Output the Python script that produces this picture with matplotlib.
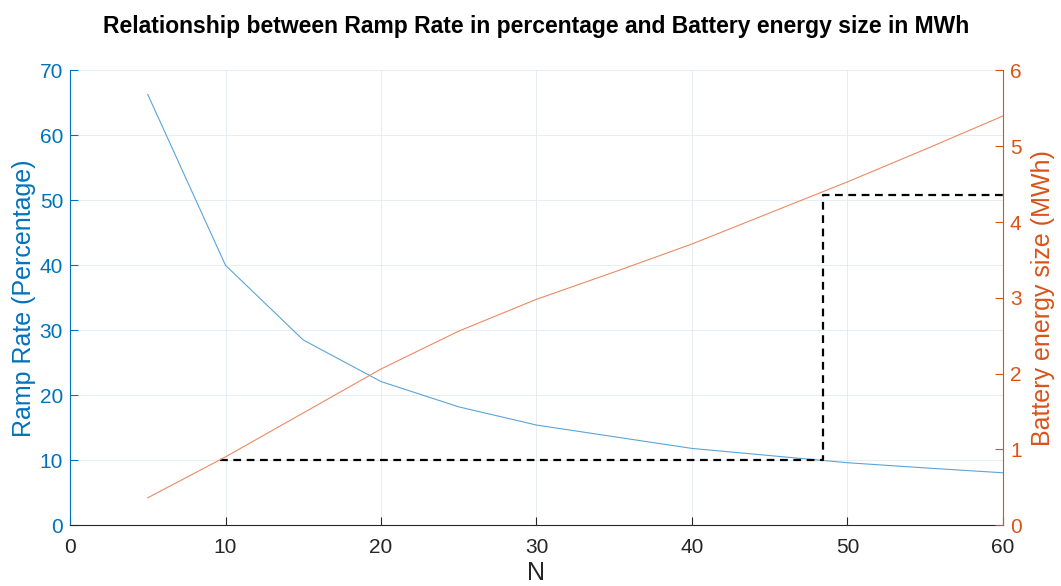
import matplotlib as mpl
mpl.use('agg')
import matplotlib.pyplot as plt

# data
n_values = [5, 10, 15, 20, 25, 30, 35, 40, 45, 50, 55, 60]
ramp_rate = [66.3, 40.0, 28.5, 22.1, 18.2, 15.4, 13.6, 11.8, 10.7, 9.6, 8.8, 8.05]
battery_mwh = [0.36, 0.90, 1.48, 2.06, 2.56, 2.98, 3.34, 3.71, 4.12, 4.53, 4.96, 5.40]

# dashed guide (N, ramp rate on left axis)
guide_n = [9.65, 48.45, 48.45, 60]
guide_rr = [10, 10, 50.85, 50.85]

blue = '#0072BD'
orange = '#D95319'
dark = '#262626'

plt.rcParams['font.family'] = ['Liberation Sans', 'DejaVu Sans']

fig = plt.figure(figsize=(10.61, 5.86), dpi=100)
ax = fig.add_axes([0.066, 0.104, 0.8793, 0.7757])
ax2 = ax.twinx()

ax.plot(n_values, ramp_rate, color='#5aa5d8', lw=0.8)
ax.plot(guide_n, guide_rr, color='black', lw=1.6, ls=(0, (3.5, 2.5)))
ax2.plot(n_values, battery_mwh, color='#ec8a63', lw=0.8)

ax.set_xlim(0, 60)
ax.set_ylim(0, 70)
ax2.set_ylim(0, 6)
ax.set_xticks(range(0, 61, 10))
ax.set_yticks(range(0, 71, 10))
ax2.set_yticks(range(0, 7))

ax.grid(True, color='#e4eaf0', lw=0.6)
ax.set_axisbelow(True)

for a in (ax, ax2):
    a.spines['top'].set_visible(False)
ax.spines['right'].set_visible(False)
ax.spines['left'].set_color(blue)
ax.spines['bottom'].set_color(dark)
ax2.spines['left'].set_visible(False)
ax2.spines['bottom'].set_visible(False)
ax2.spines['right'].set_color(orange)

ax.tick_params(axis='x', direction='in', colors=dark, labelsize=15, length=6, pad=9)
ax.tick_params(axis='y', direction='in', colors=blue, labelsize=15, length=6, pad=5)
ax2.tick_params(axis='y', direction='in', colors=orange, labelsize=15, length=6, pad=5)

ax.set_xlabel('N', fontsize=18, color=dark, labelpad=3)
ax.set_ylabel('Ramp Rate (Percentage)', fontsize=18, color=blue, labelpad=3)
ax2.set_ylabel('Battery energy size (MWh)', fontsize=18, color=orange, labelpad=7)

ax.set_title('Relationship between Ramp Rate in percentage and Battery energy size in MWh',
             fontsize=16.5, fontweight='bold', pad=27)

fig.savefig('out.png', dpi=100)
